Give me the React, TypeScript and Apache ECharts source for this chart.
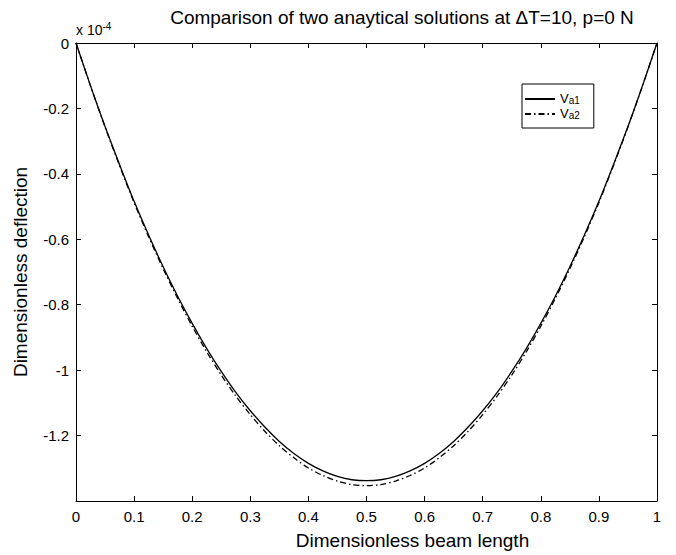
import React, { useEffect, useRef } from "react";
import * as echarts from "echarts";

// Dimensionless beam length (x) and deflections (in units of 1e-4)
const xValues = [
  0, 0.025, 0.05, 0.075, 0.1, 0.125, 0.15, 0.175, 0.2, 0.225, 0.25, 0.275, 0.3, 0.325, 0.35, 0.375, 0.4, 0.425, 0.45, 0.475,
  0.5, 0.525, 0.55, 0.575, 0.6, 0.625, 0.65, 0.675, 0.7, 0.725, 0.75, 0.775, 0.8, 0.825, 0.85, 0.875, 0.9, 0.925, 0.95, 0.975, 1,
];
const va1 = [
  0, -0.131, -0.255, -0.372, -0.484, -0.587, -0.684, -0.774, -0.857, -0.934, -1.004, -1.068, -1.124, -1.174, -1.218, -1.255,
  -1.285, -1.308, -1.325, -1.335, -1.338, -1.335, -1.325, -1.308, -1.285, -1.255, -1.218, -1.174, -1.124, -1.068, -1.004,
  -0.934, -0.857, -0.774, -0.684, -0.587, -0.484, -0.372, -0.255, -0.131, 0,
];
const va2 = [
  0, -0.131, -0.257, -0.375, -0.488, -0.592, -0.69, -0.781, -0.866, -0.944, -1.015, -1.079, -1.136, -1.187, -1.231, -1.268,
  -1.299, -1.322, -1.339, -1.35, -1.353, -1.35, -1.339, -1.322, -1.299, -1.268, -1.231, -1.187, -1.136, -1.079, -1.015,
  -0.944, -0.866, -0.781, -0.69, -0.592, -0.488, -0.375, -0.257, -0.131, 0,
];
const seriesNames = ["Va1", "Va2"];
const titleText = "Comparison of two anaytical solutions at \u0394T=10, p=0 N";
const xName = "Dimensionless beam length";
const yName = "Dimensionless deflection";

const FONT = "'Liberation Sans', Arial, Helvetica, sans-serif";

export default function App() {
  const ref = useRef<HTMLDivElement>(null);
  useEffect(() => {
    if (!ref.current) return;
    const chart = echarts.init(ref.current, undefined, { renderer: "svg" });
    const tickStyle = { show: true, inside: true, length: 5, lineStyle: { color: "#000", width: 1 } };
    const axisLine = { show: true, onZero: false, lineStyle: { color: "#000", width: 1 } };
    chart.setOption({
      animation: false,
      backgroundColor: "#fff",
      textStyle: { fontFamily: FONT },
      grid: { left: 76, right: 19, top: 43, bottom: 53, containLabel: false },
      graphic: [
        {
          type: "text",
          x: 402,
          y: 17,
          style: {
            text: titleText,
            fontSize: 19,
            fontFamily: FONT,
            fill: "#000",
            textAlign: "center",
            textVerticalAlign: "middle",
          },
        },
        {
          type: "text",
          x: 76,
          y: 39,
          style: {
            text: "x 10{s|-4}",
            fontSize: 14,
            fontFamily: FONT,
            fill: "#000",
            textAlign: "left",
            textVerticalAlign: "bottom",
            rich: {
              s: { fontSize: 10, fontFamily: FONT, fill: "#000", verticalAlign: "top", padding: [0, 0, 8, 0] },
            },
          },
        },
      ],
      legend: {
        data: seriesNames,
        orient: "vertical",
        left: 522,
        top: 84,
        backgroundColor: "#fff",
        borderColor: "#000",
        borderWidth: 1,
        borderRadius: 0,
        padding: [8, 14, 8, 2],
        itemGap: 2,
        itemWidth: 30,
        itemHeight: 12,
        itemStyle: { opacity: 0 },
        textStyle: {
          fontSize: 13,
          lineHeight: 12,
          fontFamily: FONT,
          color: "#000",
          rich: {
            v: { fontSize: 13, lineHeight: 12, fontFamily: FONT, color: "#000", verticalAlign: "bottom" },
            s: { fontSize: 10, lineHeight: 12, fontFamily: FONT, color: "#000", verticalAlign: "bottom" },
          },
        },
        formatter: (name: string) => `{v|V}{s|${name.slice(1)}}`,
      },
      xAxis: [
        {
          type: "value",
          min: 0,
          max: 1,
          interval: 0.1,
          position: "bottom",
          name: xName,
          nameLocation: "middle",
          nameGap: 30,
          nameTextStyle: { fontSize: 19, fontFamily: FONT, color: "#000", padding: [0, 0, 0, 92] },
          axisLine,
          axisTick: tickStyle,
          axisLabel: {
            fontSize: 15,
            fontFamily: FONT,
            color: "#000",
            margin: 8,
            formatter: (v: number) => String(+v.toFixed(1)),
          },
          splitLine: { show: false },
        },
        {
          type: "value",
          min: 0,
          max: 1,
          interval: 0.1,
          position: "top",
          axisLine,
          axisTick: tickStyle,
          axisLabel: { show: false },
          splitLine: { show: false },
        },
      ],
      yAxis: [
        {
          type: "value",
          min: -1.4,
          max: 0,
          interval: 0.2,
          position: "left",
          name: yName,
          nameLocation: "middle",
          nameGap: 46,
          nameTextStyle: { fontSize: 19, fontFamily: FONT, color: "#000" },
          axisLine,
          axisTick: tickStyle,
          axisLabel: {
            fontSize: 15,
            fontFamily: FONT,
            color: "#000",
            margin: 7,
            formatter: (v: number) => (v < -1.3 ? "" : String(+v.toFixed(1))),
          },
          splitLine: { show: false },
        },
        {
          type: "value",
          min: -1.4,
          max: 0,
          interval: 0.2,
          position: "right",
          axisLine,
          axisTick: tickStyle,
          axisLabel: { show: false },
          splitLine: { show: false },
        },
      ],
      series: [
        {
          name: seriesNames[0],
          type: "line",
          xAxisIndex: 0,
          yAxisIndex: 0,
          data: xValues.map((x, i) => [x, va1[i]]),
          symbol: "none",
          smooth: 0.3,
          lineStyle: { color: "#000", width: 1.3, type: "solid" },
          itemStyle: { color: "#000" },
          z: 3,
        },
        {
          name: seriesNames[1],
          type: "line",
          xAxisIndex: 0,
          yAxisIndex: 0,
          data: xValues.map((x, i) => [x, va2[i]]),
          symbol: "none",
          smooth: 0.3,
          lineStyle: { color: "#000", width: 1.3, type: [6, 3, 1.5, 3] },
          itemStyle: { color: "#000" },
          z: 2,
        },
      ],
    });
    return () => chart.dispose();
  }, []);
  return (
    <div
      ref={ref}
      style={{ position: "fixed", left: 0, top: 0, width: 676, height: 555, background: "#fff" }}
    />
  );
}
